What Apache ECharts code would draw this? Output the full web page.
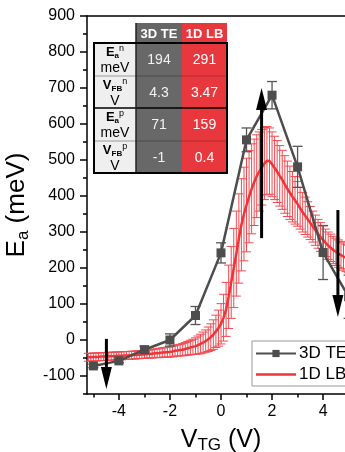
<!DOCTYPE html>
<html>
<head>
<meta charset="utf-8">
<script src="https://cdn.jsdelivr.net/npm/echarts@6/dist/echarts.min.js"></script>
<style>
  html, body { margin: 0; padding: 0; background: #fff; }
  #main { width: 345px; height: 452px; }
</style>
</head>
<body>
<div id="main"></div>
<script>
// 3D TE measured points (V, meV) with error bars
var teX = [-5, -4, -3, -2, -1, 0, 1, 2, 3, 4, 5];
var teY = [-72, -58, -27, 0, 68, 242, 556, 680, 481, 243, 120];
var teErr = [5, 5, 10, 17, 25, 28, 33, 38, 57, 75, 60];

// 1D LB curve (V, meV) with error bars
var lbX = [-5.2, -5.1, -5.0, -4.9, -4.8, -4.7, -4.6, -4.5, -4.4, -4.3, -4.2, -4.1, -4.0,
  -3.9, -3.8, -3.7, -3.6, -3.5, -3.4, -3.3, -3.2, -3.1, -3.0,
  -2.9, -2.8, -2.7, -2.6, -2.5, -2.4, -2.3, -2.2, -2.1, -2.0,
  -1.9, -1.8, -1.7, -1.6, -1.5, -1.4, -1.3, -1.2, -1.1, -1.0,
  -0.9, -0.8, -0.7, -0.6, -0.5, -0.4, -0.3, -0.2, -0.1, 0.0,
  0.1, 0.2, 0.3, 0.4, 0.5, 0.6, 0.7, 0.8, 0.9, 1.0,
  1.1, 1.2, 1.3, 1.4, 1.5, 1.6, 1.7, 1.8, 1.9, 2.0,
  2.1, 2.2, 2.3, 2.4, 2.5, 2.6, 2.7, 2.8, 2.9, 3.0,
  3.1, 3.2, 3.3, 3.4, 3.5, 3.6, 3.7, 3.8, 3.9, 4.0,
  4.1, 4.2, 4.3, 4.4, 4.5, 4.6, 4.7, 4.8, 4.9, 5.0];
var lbY = [-48, -48, -47, -47, -47, -46, -46, -46, -45, -45, -45, -44, -44,
  -44, -43, -43, -43, -42, -42, -41, -41, -40, -40,
  -39, -39, -38, -37, -37, -36, -35, -34, -34, -33,
  -32, -30, -29, -28, -27, -25, -23, -21, -19, -17,
  -14, -11, -7, -3, 2, 8, 15, 24, 33, 45,
  62, 85, 120, 160, 200, 240, 282, 320, 350, 375,
  398, 420, 438, 455, 468, 480, 490, 498, 497, 488,
  478, 468, 456, 445, 432, 420, 409, 398, 388, 378,
  366, 355, 345, 335, 325, 315, 305, 295, 286, 278,
  270, 262, 256, 250, 245, 240, 236, 232, 228, 225];
var lbErr = [11, 11, 11, 11, 11, 11, 11, 11, 11, 11, 11, 11, 11,
  11, 11, 11, 11, 11, 11, 11, 11, 11, 11,
  11, 11, 12, 12, 12, 13, 13, 13, 14, 14,
  15, 15, 16, 16, 17, 18, 19, 20, 21, 23,
  25, 27, 29, 31, 34, 37, 41, 45, 50, 56,
  65, 75, 88, 100, 110, 118, 124, 128, 130, 130,
  128, 125, 120, 115, 110, 105, 100, 95, 92, 90,
  88, 86, 84, 82, 80, 77, 74, 70, 66, 62,
  58, 55, 52, 49, 46, 43, 42, 40, 40, 39,
  38, 38, 38, 38, 38, 38, 38, 38, 38, 38];

// annotation arrows (V, from meV, to meV)
var arrowX = [1.59, 4.58, -4.49];
var arrowFrom = [283, 361, 3];
var arrowTo = [700, 64, -136];

// axis ticks
var xLabels = [-4, -2, 0, 2, 4];
var xMajorTicks = [-4, -2, 0, 2, 4];
var xMinorTicks = [-5, -3, -1, 1, 3, 5];
var yLabels = [-100, 0, 100, 200, 300, 400, 500, 600, 700, 800, 900];
var yMinorTicks = [-150, -50, 50, 150, 250, 350, 450, 550, 650, 750, 850];

// inset table
var tableCols = ['3D TE', '1D LB'];
var tableRows = [['E', 'a', 'n', 'meV'], ['V', 'FB', 'n', 'V'], ['E', 'a', 'p', 'meV'], ['V', 'FB', 'p', 'V']];
var teTable = ['194', '4.3', '71', '-1'];
var lbTable = ['291', '3.47', '159', '0.4'];

var FONT = 'Arial, "Liberation Sans", sans-serif';
var GRAY = '#4d4d4d';
var RED = '#ef3339';

var chart = echarts.init(document.getElementById('main'));

function errBars(color, cap, width) {
  return function (params, api) {
    var x = api.value(0);
    var p1 = api.coord([x, api.value(1)]);
    var p2 = api.coord([x, api.value(2)]);
    var st = { stroke: color, lineWidth: width };
    return {
      type: 'group', children: [
        { type: 'line', shape: { x1: p1[0], y1: p1[1], x2: p2[0], y2: p2[1] }, style: st },
        { type: 'line', shape: { x1: p1[0] - cap, y1: p1[1], x2: p1[0] + cap, y2: p1[1] }, style: st },
        { type: 'line', shape: { x1: p2[0] - cap, y1: p2[1], x2: p2[0] + cap, y2: p2[1] }, style: st }
      ]
    };
  };
}

function arrowItem(params, api) {
  var a = api.coord([api.value(0), api.value(1)]);
  var b = api.coord([api.value(0), api.value(2)]);
  var dir = b[1] < a[1] ? -1 : 1;
  var headLen = 22, headW = 5.5;
  var base = b[1] - dir * headLen;
  return {
    type: 'group', children: [
      { type: 'line', shape: { x1: a[0], y1: a[1], x2: b[0], y2: base }, style: { stroke: '#000', lineWidth: 3 } },
      { type: 'polygon', shape: { points: [[b[0], b[1]], [b[0] - headW, base], [b[0] + headW, base]] }, style: { fill: '#000' } }
    ]
  };
}

var teErrData = teX.map(function (x, i) { return [x, teY[i] - teErr[i], teY[i] + teErr[i]]; });
var lbErrData = lbX.map(function (x, i) { return [x, lbY[i] - lbErr[i], lbY[i] + lbErr[i]]; });
var arrowData = arrowX.map(function (x, i) { return [x, arrowFrom[i], arrowTo[i]]; });

// table graphic
var cx = [94, 136, 182, 227];
var ry = [23, 43, 76, 108, 141, 173];
var g = [];
g.push({ type: 'rect', shape: { x: cx[1], y: ry[0], width: cx[2] - cx[1], height: ry[1] - ry[0] }, style: { fill: '#666' } });
g.push({ type: 'rect', shape: { x: cx[2], y: ry[0], width: cx[3] - cx[2], height: ry[1] - ry[0] }, style: { fill: '#e8383e' } });
g.push({ type: 'rect', shape: { x: cx[0], y: ry[1], width: cx[1] - cx[0], height: ry[5] - ry[1] }, style: { fill: '#efefef' } });
g.push({ type: 'rect', shape: { x: cx[1], y: ry[1], width: cx[2] - cx[1], height: ry[5] - ry[1] }, style: { fill: '#686868' } });
g.push({ type: 'rect', shape: { x: cx[2], y: ry[1], width: cx[3] - cx[2], height: ry[5] - ry[1] }, style: { fill: '#e8383e' } });
[ry[2], ry[4]].forEach(function (y) {
  g.push({ type: 'line', shape: { x1: cx[0], y1: y, x2: cx[1], y2: y }, style: { stroke: '#999', lineWidth: 1 } });
  g.push({ type: 'line', shape: { x1: cx[1], y1: y, x2: cx[2], y2: y }, style: { stroke: '#4a4a4a', lineWidth: 1 } });
  g.push({ type: 'line', shape: { x1: cx[2], y1: y, x2: cx[3], y2: y }, style: { stroke: '#b02a2f', lineWidth: 1 } });
});
g.push({ type: 'line', shape: { x1: cx[0], y1: ry[3], x2: cx[3], y2: ry[3] }, style: { stroke: '#000', lineWidth: 1.5 } });
g.push({ type: 'line', shape: { x1: cx[1], y1: ry[0], x2: cx[1], y2: ry[5] }, style: { stroke: '#222', lineWidth: 1.5 } });
g.push({ type: 'rect', shape: { x: cx[0], y: ry[1], width: cx[3] - cx[0], height: ry[5] - ry[1] }, style: { fill: 'none', stroke: '#000', lineWidth: 2 } });
tableCols.forEach(function (t, i) {
  g.push({ type: 'text', x: (cx[i + 1] + cx[i + 2]) / 2, y: (ry[0] + ry[1]) / 2 + 1,
    style: { text: t, fill: '#fff', fontSize: 13, fontWeight: 'bold', fontFamily: FONT, align: 'center', verticalAlign: 'middle' } });
});
tableRows.forEach(function (r, i) {
  var top = ry[i + 1], bot = ry[i + 2], mid = (top + bot) / 2;
  g.push({ type: 'text', x: (cx[0] + cx[1]) / 2, y: top + 9,
    style: {
      text: '{m|' + r[0] + '}{s|' + r[1] + '}{p|' + r[2] + '}', align: 'center', verticalAlign: 'middle',
      rich: {
        m: { fontSize: 13, fontWeight: 'bold', fontFamily: FONT, fill: '#000', lineHeight: 16 },
        s: { fontSize: 8, fontWeight: 'bold', fontFamily: FONT, fill: '#000', lineHeight: 9, verticalAlign: 'bottom' },
        p: { fontSize: 9, fontFamily: FONT, fill: '#000', lineHeight: 9, verticalAlign: 'top' }
      }
    } });
  g.push({ type: 'text', x: (cx[0] + cx[1]) / 2, y: top + 25,
    style: { text: r[3], fill: '#000', fontSize: 14, fontFamily: FONT, align: 'center', verticalAlign: 'middle' } });
  g.push({ type: 'text', x: (cx[1] + cx[2]) / 2, y: mid + 1,
    style: { text: teTable[i], fill: '#f2f2f2', fontSize: 14, fontFamily: FONT, align: 'center', verticalAlign: 'middle' } });
  g.push({ type: 'text', x: (cx[2] + cx[3]) / 2, y: mid + 1,
    style: { text: lbTable[i], fill: '#fff', fontSize: 14, fontFamily: FONT, align: 'center', verticalAlign: 'middle' } });
});

var xCommon = { type: 'value', min: -5.25, max: 5.25, splitLine: { show: false } };
var yCommon = { type: 'value', min: -150, max: 900, splitLine: { show: false } };

var option = {
  animation: false,
  backgroundColor: '#fff',
  grid: { left: 87, right: -10, top: 16, bottom: 58, outerBoundsMode: 'none' },
  xAxis: [
    Object.assign({}, xCommon, {
      position: 'bottom',
      name: '{m|V}{s|TG}{m| (V)}', nameLocation: 'middle', nameGap: 32,
      nameTextStyle: {
        rich: {
          m: { fontSize: 25, fontFamily: FONT, color: '#000', lineHeight: 28 },
          s: { fontSize: 17, fontFamily: FONT, color: '#000', lineHeight: 17, verticalAlign: 'bottom' }
        }
      },
      axisLine: { onZero: false, lineStyle: { color: '#000', width: 1.5 } },
      axisTick: { inside: false, length: 6, customValues: xMajorTicks, lineStyle: { color: '#000', width: 1.5 } },
      axisLabel: { customValues: xLabels, margin: 10, fontSize: 16, fontFamily: FONT, color: '#000' }
    }),
    Object.assign({}, xCommon, {
      position: 'bottom',
      axisLine: { show: false, onZero: false },
      axisTick: { length: 3.5, customValues: xMinorTicks, lineStyle: { color: '#000', width: 1.5 } },
      axisLabel: { show: false }
    }),
    Object.assign({}, xCommon, {
      position: 'top',
      axisLine: { onZero: false, lineStyle: { color: '#000', width: 1.5 } },
      axisTick: { show: false },
      axisLabel: { show: false }
    })
  ],
  yAxis: [
    Object.assign({}, yCommon, {
      position: 'left',
      name: '{m|E}{s|a}{m| (meV)}', nameLocation: 'middle', nameGap: 43,
      nameTextStyle: {
        rich: {
          m: { fontSize: 26, fontFamily: FONT, color: '#000', lineHeight: 30 },
          s: { fontSize: 17, fontFamily: FONT, color: '#000', lineHeight: 17, verticalAlign: 'bottom' }
        }
      },
      axisLine: { onZero: false, lineStyle: { color: '#000', width: 1.5 } },
      axisTick: { length: 7, customValues: yLabels, lineStyle: { color: '#000', width: 1.5 } },
      axisLabel: { customValues: yLabels, margin: 12, fontSize: 16, fontFamily: FONT, color: '#000' }
    }),
    Object.assign({}, yCommon, {
      position: 'left',
      axisLine: { show: false, onZero: false },
      axisTick: { length: 4, customValues: yMinorTicks, lineStyle: { color: '#000', width: 1.5 } },
      axisLabel: { show: false }
    })
  ],
  legend: {
    left: 252, top: 341, orient: 'vertical',
    data: [{ name: '3D TE' }, { name: '1D LB', icon: 'path://M0,0 L40,0 L40,2.5 L0,2.5 Z' }],
    itemWidth: 40, itemHeight: 9, itemGap: 4,
    padding: [4, 30, 3, 3],
    borderColor: '#999', borderWidth: 1, borderRadius: 0,
    backgroundColor: '#fff',
    textStyle: { fontSize: 17, fontFamily: FONT, color: '#000', padding: [0, 0, 0, -2] }
  },
  series: [
    { type: 'custom', name: 'lbErr', renderItem: errBars('#f24a50', 4.5, 1), data: lbErrData, z: 2, silent: true,
      encode: { x: 0, y: [1, 2] } },
    { type: 'line', name: '1D LB', data: lbX.map(function (x, i) { return [x, lbY[i]]; }), symbol: 'none',
      lineStyle: { color: RED, width: 2.5 }, itemStyle: { color: RED }, z: 3 },
    { type: 'custom', name: 'teErr', renderItem: errBars('#555', 5, 1.3), data: teErrData, z: 4, silent: true,
      encode: { x: 0, y: [1, 2] } },
    { type: 'line', name: '3D TE', data: teX.map(function (x, i) { return [x, teY[i]]; }),
      symbol: 'rect', symbolSize: 9, lineStyle: { color: GRAY, width: 2.5 }, itemStyle: { color: GRAY }, z: 5 },
    { type: 'custom', name: 'arrows', renderItem: arrowItem, data: arrowData, z: 6, silent: true,
      encode: { x: 0, y: [1, 2] } }
  ],
  graphic: { elements: g.map(function (e) { e.z = 100; return e; }) }
};

chart.setOption(option);
</script>
</body>
</html>
